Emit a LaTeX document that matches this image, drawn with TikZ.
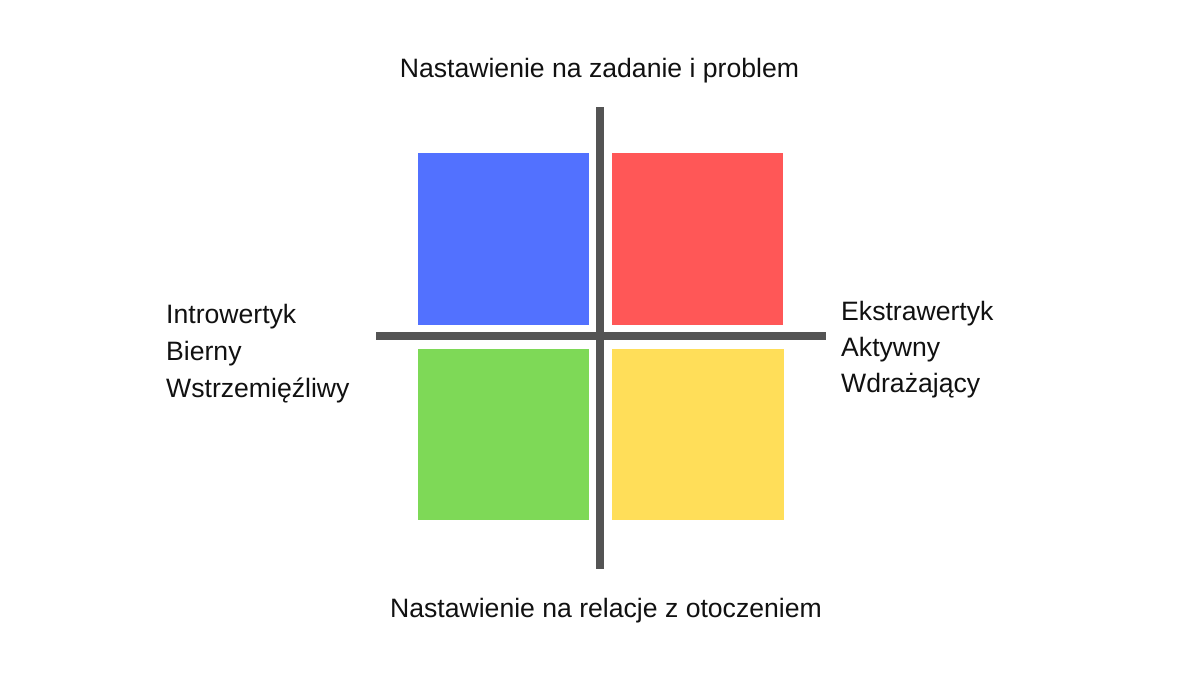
\documentclass[tikz,border=0pt]{standalone}
\usepackage{fontspec}
\setmainfont{Liberation Sans}
\definecolor{qblue}{HTML}{5271FF}
\definecolor{qred}{HTML}{FF5757}
\definecolor{qgreen}{HTML}{7ED957}
\definecolor{qyellow}{HTML}{FFDE59}
\definecolor{axisgray}{HTML}{545454}
\definecolor{txt}{HTML}{111111}
\begin{document}
\begin{tikzpicture}[x=1pt,y=-1pt,
  quad/.style={fill=#1, draw=none},
  axisbar/.style={fill=axisgray, draw=none},
  lbl/.style={inner sep=0pt, text=txt, font=\fontsize{26.6}{36}\selectfont}]
\useasboundingbox[fill=white] (0,0) rectangle (1200,675);
% quadrants
\fill[quad=qblue]   (418,153) rectangle (589,325);
\fill[quad=qred]    (612,153) rectangle (783,325);
\fill[quad=qgreen]  (418,349) rectangle (589,520);
\fill[quad=qyellow] (612,349) rectangle (784,520);
% axes
\fill[axisbar] (596,107) rectangle (604,569);
\fill[axisbar] (376,332) rectangle (826,340);
% labels
\node[lbl, anchor=base] (top) at (599.5,77) {Nastawienie na zadanie i problem};
\node[lbl, anchor=base] (bottom) at (606,617) {Nastawienie na relacje z otoczeniem};
\node[lbl, anchor=base west] (l1) at (166,323.5) {Introwertyk};
\node[lbl, anchor=base west] (l2) at (166,360.5) {Bierny};
\node[lbl, anchor=base west] (l3) at (166,397) {Wstrzemięźliwy};
\node[lbl, anchor=base west] (r1) at (841,320) {Ekstrawertyk};
\node[lbl, anchor=base west] (r2) at (841,356) {Aktywny};
\node[lbl, anchor=base west] (r3) at (841,392) {Wdrażający};
\end{tikzpicture}
\end{document}
